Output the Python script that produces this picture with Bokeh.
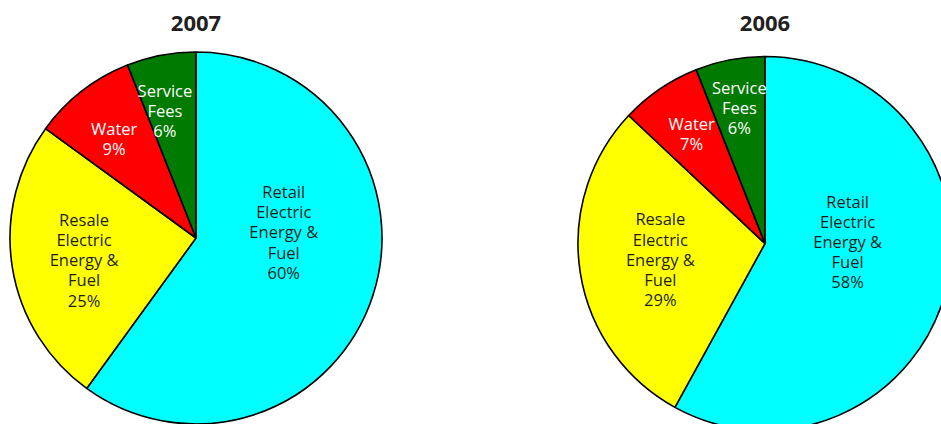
import numpy as np
from bokeh.plotting import figure
from bokeh.models import Range1d, ColumnDataSource
from bokeh.core.properties import value
from bokeh.embed import file_html
from bokeh.resources import INLINE

# ---- data ----
years = ["2007", "2006"]
categories = ["Retail Electric Energy & Fuel", "Resale Electric Energy & Fuel", "Water", "Service Fees"]
label_lines = [["Retail", "Electric", "Energy &", "Fuel"],
               ["Resale", "Electric", "Energy &", "Fuel"],
               ["Water"],
               ["Service", "Fees"]]
share_2007 = [60, 25, 9, 6]
share_2006 = [58, 29, 7, 6]

# ---- styles / layout ----
colors = ["#00FFFF", "#FFFF00", "#FF0000", "#007A00"]
text_colors = ["#231F20", "#231F20", "#FFFFFF", "#FFFFFF"]
W, H = 941, 424
FONT = "Open Sans"

pies = [
    dict(year=years[0], shares=share_2007, cx=195.5, cy=H - 237.5, r=186,
         label_pos=[(86.0, 0.473), (259.1, 0.613), (320.5, 0.692), (346.3, 0.706)]),
    dict(year=years[1], shares=share_2006, cx=764.5, cy=H - 243.0, r=187,
         label_pos=[(88.6, 0.442), (261.4, 0.566), (326.3, 0.707), (349.3, 0.739)]),
]

p = figure(width=W, height=H, x_range=Range1d(0, W), y_range=Range1d(0, H),
           min_border=0, output_backend="svg", toolbar_location=None)
p.axis.visible = False
p.grid.visible = False
p.outline_line_color = None
p.background_fill_color = "white"

for pie in pies:
    shares = np.array(pie["shares"], dtype=float)
    frac = shares / shares.sum()
    ends = np.cumsum(frac) * 2 * np.pi
    starts = ends - frac * 2 * np.pi
    src = ColumnDataSource(dict(
        x=[pie["cx"]] * len(shares), y=[pie["cy"]] * len(shares),
        start=list(np.pi / 2 - starts), end=list(np.pi / 2 - ends),
        color=colors, cat=categories))
    p.wedge(x="x", y="y", radius=pie["r"], start_angle="start", end_angle="end",
            direction="clock", fill_color="color", line_color="black",
            line_width=1.6, source=src)

    lx, ly, lt = [], [], []
    for (ang, rf), lines, sh in zip(pie["label_pos"], label_lines, pie["shares"]):
        a = np.deg2rad(ang)
        lx.append(pie["cx"] + rf * pie["r"] * np.sin(a))
        ly.append(pie["cy"] + rf * pie["r"] * np.cos(a))
        lt.append("\n".join(lines + [f"{sh}%"]))
    tsrc = ColumnDataSource(dict(x=lx, y=ly, text=lt, color=text_colors))
    p.text(x="x", y="y", text="text", source=tsrc, text_align="center",
           text_baseline="middle", text_font=value(FONT), text_font_size="16.5px",
           text_line_height=0.88, text_color="color")

    p.text(x=[pie["cx"]], y=[H - 23], text=[pie["year"]], text_align="center",
           text_baseline="middle", text_font=value(FONT), text_font_size="22px",
           text_font_style="bold", text_color="#231F20")

open("out.html", "w").write(file_html(p, INLINE))
